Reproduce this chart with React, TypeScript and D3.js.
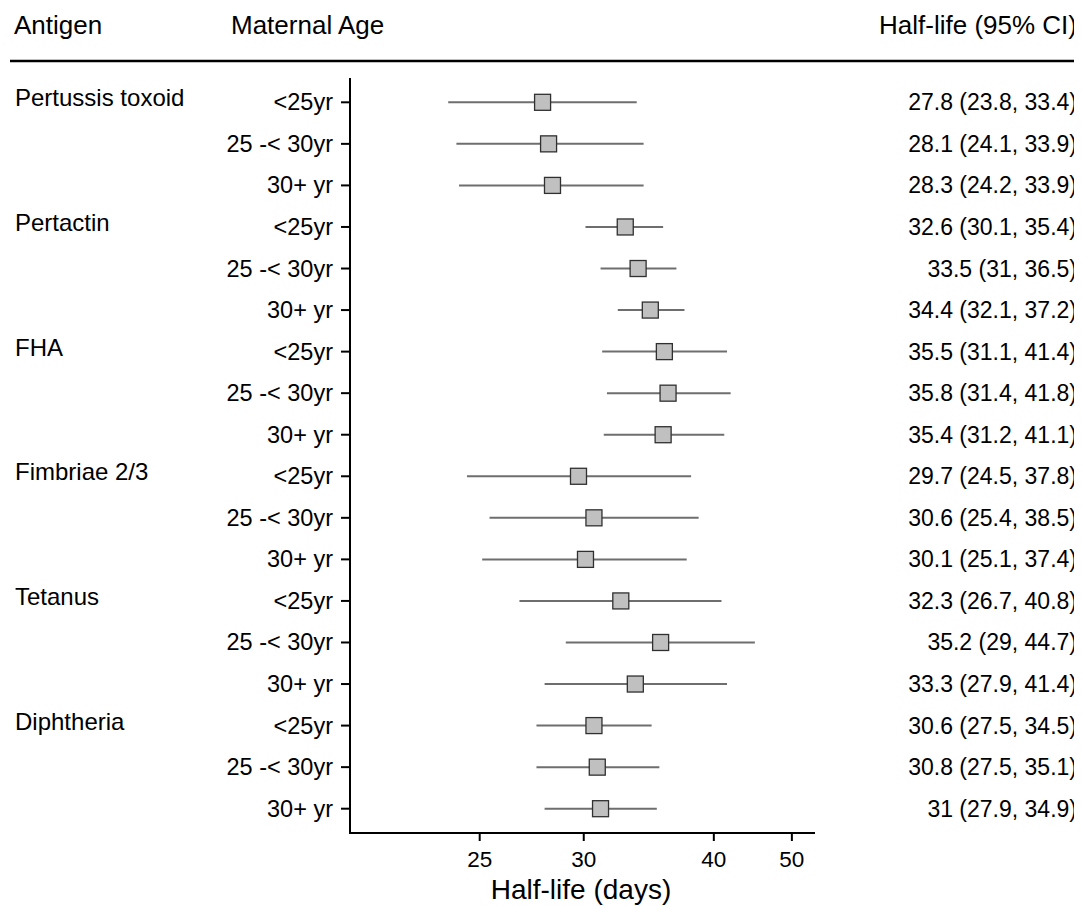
import React from "react";
import * as d3 from "d3";

// values
const antigens = ["Pertussis toxoid", "Pertactin", "FHA", "Fimbriae 2/3", "Tetanus", "Diphtheria"];
const ageGroups = ["<25yr", "25 -< 30yr", "30+ yr"];
const halfLife = [27.8, 28.1, 28.3, 32.6, 33.5, 34.4, 35.5, 35.8, 35.4, 29.7, 30.6, 30.1, 32.3, 35.2, 33.3, 30.6, 30.8, 31];
const lower = [23.8, 24.1, 24.2, 30.1, 31, 32.1, 31.1, 31.4, 31.2, 24.5, 25.4, 25.1, 26.7, 29, 27.9, 27.5, 27.5, 27.9];
const upper = [33.4, 33.9, 33.9, 35.4, 36.5, 37.2, 41.4, 41.8, 41.1, 37.8, 38.5, 37.4, 40.8, 44.7, 41.4, 34.5, 35.1, 34.9];
const xTicks = [25, 30, 40, 50];

const W = 1082;
const H = 906;
const font = "'Liberation Sans', Arial, Helvetica, sans-serif";

const App = () => {
  const rows = d3.range(halfLife.length);

  // x axis is linear in 1/half-life (decay rate)
  const rate = d3.scaleLinear().domain([1 / 20.7, 1 / 54]).range([350, 815]);
  const x = (v: number) => rate(1 / v);

  const y = d3.scalePoint<number>().domain(rows).range([78, 833]).padding(0.585);

  const axisY = 833;
  const box = 16;

  return (
    <svg width={W} height={H} style={{ display: "block", margin: "-8px 0 0 -8px" }} fontFamily={font}>
      {/* header */}
      <text x={14} y={34} fontSize={26}>Antigen</text>
      <text x={231} y={34} fontSize={26}>Maternal Age</text>
      <text x={1077} y={34} fontSize={26} textAnchor="end">Half-life (95% CI)</text>
      <line x1={10} x2={1078} y1={61} y2={61} stroke="#000" strokeWidth={2.5} />

      {/* antigen labels */}
      {antigens.map((a, i) => (
        <text key={a} x={15} y={(y(i * 3) as number) + 4} fontSize={24}>{a}</text>
      ))}

      {/* age labels, ticks, CI text */}
      {rows.map((r) => {
        const cy = y(r) as number;
        return (
          <g key={r}>
            <text x={333} y={cy + 8} fontSize={23.5} textAnchor="end">{ageGroups[r % 3]}</text>
            <line x1={341} x2={350} y1={cy} y2={cy} stroke="#000" strokeWidth={2} />
            <text x={1077} y={cy + 8} fontSize={23} textAnchor="end">
              {`${halfLife[r]} (${lower[r]}, ${upper[r]})`}
            </text>
          </g>
        );
      })}

      {/* CI lines and point estimates */}
      {rows.map((r) => {
        const cy = y(r) as number;
        return (
          <g key={"m" + r}>
            <line x1={x(lower[r])} x2={x(upper[r])} y1={cy} y2={cy} stroke="#6e6e6e" strokeWidth={2} />
            <rect
              x={x(halfLife[r]) - box / 2}
              y={cy - box / 2}
              width={box}
              height={box}
              fill="#c0c0c0"
              stroke="#303030"
              strokeWidth={1.3}
            />
          </g>
        );
      })}

      {/* axes */}
      <line x1={350} x2={350} y1={78} y2={axisY} stroke="#000" strokeWidth={2} />
      <line x1={349} x2={815} y1={axisY} y2={axisY} stroke="#000" strokeWidth={2} />
      {xTicks.map((t) => (
        <g key={t} transform={`translate(${x(t)},${axisY})`}>
          <line y1={0} y2={8} stroke="#000" strokeWidth={2} />
          <text y={34} fontSize={22.5} textAnchor="middle">{t}</text>
        </g>
      ))}
      <text x={581} y={899} fontSize={28} textAnchor="middle">Half-life (days)</text>
    </svg>
  );
};

export default App;
